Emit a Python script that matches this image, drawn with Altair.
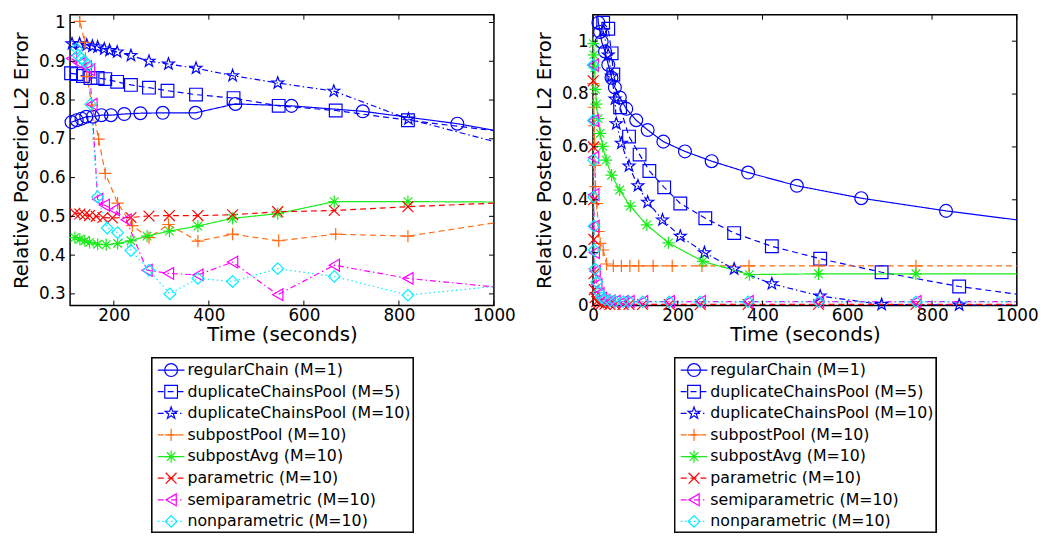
import altair as alt
import pandas as pd

FONT = "DejaVu Sans"

SERIES = ["regularChain (M=1)", "duplicateChainsPool (M=5)", "duplicateChainsPool (M=10)",
          "subpostPool (M=10)", "subpostAvg (M=10)", "parametric (M=10)",
          "semiparametric (M=10)", "nonparametric (M=10)"]
COLORS = ["#0000ff", "#0000ff", "#0000ff", "#ff6a10", "#1aeb1a", "#ff0000", "#ff00ff", "#00eeff"]
DASHES = [[1, 0], [6, 4], [6, 3, 1.5, 3], [6, 4], [1, 0], [6, 4], [6, 3, 1.5, 3], [1.5, 3]]
STAR = ("M0,-1L0.235,-0.324L0.951,-0.309L0.38,0.124L0.588,0.809L0,0.4L-0.588,0.809"
        "L-0.38,0.124L-0.951,-0.309L-0.235,-0.324Z")
PLUS = "M-1,0L1,0M0,-1L0,1"
ASTER = "M-1,0L1,0M0,-1L0,1M-0.7,-0.7L0.7,0.7M-0.7,0.7L0.7,-0.7"
XMARK = "M-0.9,-0.9L0.9,0.9M-0.9,0.9L0.9,-0.9"
SHAPES = ["circle", "square", STAR, PLUS, ASTER, XMARK, "triangle-left", "diamond"]
SIZES = [170, 140, 200, 190, 170, 150, 150, 160]

# ---------------- left panel ----------------
L_XDOM = [108, 1000]
L_YDOM = [0.27, 1.02]
L_XTICKS = [200, 400, 600, 800, 1000]
L_YTICKS = [0.3, 0.4, 0.5, 0.6, 0.7, 0.8, 0.9, 1.0]

L_reg_x = [111, 122, 132, 142, 156, 174, 194, 222, 256, 303, 372, 456, 574, 724, 923]
L_reg_y = [0.743, 0.748, 0.752, 0.757, 0.757, 0.761, 0.761, 0.764, 0.766, 0.767, 0.767, 0.790, 0.785, 0.771, 0.739]
L_dup5_x = [110, 122, 135, 151, 166, 182, 207, 236, 274, 313, 373, 452, 547, 667, 819]
L_dup5_y = [0.869, 0.867, 0.862, 0.857, 0.857, 0.854, 0.847, 0.839, 0.832, 0.824, 0.814, 0.805, 0.785, 0.773, 0.748]
L_dup10_x = [112, 128, 143, 155, 166, 180, 191, 207, 236, 274, 315, 373, 450, 545, 663, 820]
L_dup10_y = [0.945, 0.945, 0.942, 0.939, 0.937, 0.932, 0.928, 0.924, 0.915, 0.900, 0.893, 0.882, 0.863, 0.844, 0.823, 0.751]
L_pool_x = [118, 128.5, 139, 143, 154, 168, 182, 208, 239, 274, 315, 377, 450, 547, 667, 819]
L_pool_y = [1.15, 1.003, 0.949, 0.861, 0.787, 0.699, 0.611, 0.534, 0.476, 0.445, 0.479, 0.436, 0.454, 0.437, 0.454, 0.449]
L_avg_x = [118, 128.5, 139, 149, 166, 184, 208, 236, 270, 317, 377, 450, 545, 664, 819]
L_avg_y = [0.445, 0.441, 0.437, 0.433, 0.428, 0.427, 0.430, 0.437, 0.449, 0.462, 0.475, 0.495, 0.507, 0.538, 0.538]
L_par_x = [118, 128.5, 139, 149, 163, 177, 197, 236, 274, 317, 377, 450, 545, 664, 819]
L_par_y = [0.508, 0.506, 0.504, 0.502, 0.500, 0.497, 0.496, 0.497, 0.501, 0.502, 0.502, 0.504, 0.512, 0.515, 0.525]
L_semi_x = [111, 128.5, 142, 149, 154, 166, 180, 201, 226, 270, 315, 377, 450, 545, 664, 819]
L_semi_y = [0.907, 0.894, 0.886, 0.878, 0.789, 0.544, 0.529, 0.517, 0.491, 0.361, 0.353, 0.349, 0.382, 0.298, 0.374, 0.340]
L_non_x = [122, 125, 132, 139, 146, 151, 166, 186, 208, 236, 274, 318, 377, 450, 545, 664, 819]
L_non_y = [0.932, 0.915, 0.907, 0.899, 0.890, 0.789, 0.550, 0.470, 0.458, 0.412, 0.361, 0.300, 0.340, 0.332, 0.365, 0.345, 0.297]
L_tail_y = [0.722, 0.721, 0.693, 0.483, 0.537, 0.534, 0.318, 0.319]

# ---------------- right panel ----------------
R_XDOM = [0, 1000]
R_YDOM = [0, 1.1]
R_XTICKS = [0, 200, 400, 600, 800, 1000]
R_YTICKS = [0, 0.2, 0.4, 0.6, 0.8, 1.0]

R_reg_x = [5, 12.8, 16.7, 20.5, 28.4, 36, 43.7, 51.6, 63.3, 78.6, 102, 129, 166, 217, 280, 366, 481, 633, 833]
R_reg_y = [1.2, 1.07, 1.035, 0.998, 0.961, 0.911, 0.862, 0.825, 0.787, 0.744, 0.701, 0.664, 0.620, 0.583, 0.546, 0.503, 0.453, 0.406, 0.358]
R_dup5_x = [24, 36, 44, 48, 64, 85, 110, 133, 168, 206, 265, 333, 422, 536, 681, 864]
R_dup5_y = [1.07, 1.047, 0.954, 0.874, 0.75, 0.639, 0.571, 0.509, 0.447, 0.386, 0.330, 0.274, 0.224, 0.177, 0.126, 0.072]
R_dup10_x = [24, 36, 44, 52, 55, 67, 85, 106, 129, 164, 206, 263, 333, 422, 536, 681, 864]
R_dup10_y = [1.04, 0.948, 0.868, 0.781, 0.688, 0.614, 0.528, 0.453, 0.391, 0.324, 0.262, 0.200, 0.138, 0.082, 0.036, 0.004, 0.002]
R_pool_x = [1, 2, 3, 4, 5, 6, 9, 13, 17, 24, 32, 48, 67, 87, 108, 142, 187, 257, 368, 533, 762]
R_pool_y = [0.84, 0.75, 0.68, 0.61, 0.53, 0.45, 0.386, 0.28, 0.235, 0.21, 0.157, 0.15, 0.15, 0.15, 0.15, 0.15, 0.15, 0.15, 0.15, 0.15, 0.15]
R_avg_x = [1, 2, 4, 6, 8, 12, 17, 23, 31, 44, 63, 88, 127, 178, 259, 369, 532, 762]
R_avg_y = [0.991, 0.948, 0.899, 0.818, 0.762, 0.707, 0.651, 0.602, 0.55, 0.493, 0.437, 0.376, 0.305, 0.237, 0.167, 0.117, 0.12, 0.12]
R_low_x = [0.5, 1, 1.5, 2, 2.5, 3, 5, 9, 14, 20, 28, 40, 52, 71, 85, 117, 180, 253, 366, 532, 762]
R_par_y = [0.85, 0.6, 0.4, 0.25, 0.12, 0.06, 0.03, 0.015, 0.01, 0.007, 0.005, 0.004, 0.004, 0.004, 0.004, 0.004, 0.004, 0.004, 0.004, 0.004, 0.004]
R_semi_y = [0.91, 0.70, 0.56, 0.42, 0.30, 0.20, 0.13, 0.08, 0.045, 0.028, 0.02, 0.017, 0.016, 0.015, 0.015, 0.015, 0.015, 0.015, 0.015, 0.015, 0.015]
R_non_y = [0.91, 0.70, 0.55, 0.41, 0.30, 0.21, 0.138, 0.089, 0.05, 0.03, 0.022, 0.018, 0.016, 0.015, 0.015, 0.014, 0.014, 0.014, 0.014, 0.014, 0.014]
R_tail_y = [0.324, 0.043, 0.001, 0.15, 0.12, 0.004, 0.015, 0.014]

W, H = 430, 295
LEG_H = 177
LEG_L, LEG_R = 83, 348   # legend box inside the legend strip (same width as the plot)


def build_frame(xs_list, ys_list, tails, xdom, ydom):
    rows = []
    for s, xs, ys, tail in zip(SERIES, xs_list, ys_list, tails):
        for i, (x, y) in enumerate(zip(xs, ys)):
            inside = (xdom[0] <= x <= xdom[1]) and (ydom[0] <= y <= ydom[1])
            rows.append(dict(series=s, x=x, y=y, i=i, m=int(inside)))
        rows.append(dict(series=s, x=xdom[1], y=tail, i=len(xs), m=0))
    return pd.DataFrame(rows)


color = alt.Color("series:N", scale=alt.Scale(domain=SERIES, range=COLORS), legend=None)
dash = alt.StrokeDash("series:N", scale=alt.Scale(domain=SERIES, range=DASHES), legend=None)
shape = alt.Shape("series:N", scale=alt.Scale(domain=SERIES, range=SHAPES), legend=None)
size = alt.Size("series:N", scale=alt.Scale(domain=SERIES, range=SIZES), legend=None)


def panel(df, xdom, ydom, xticks, yticks):
    xs = alt.Scale(domain=xdom, nice=False, zero=False)
    ys = alt.Scale(domain=ydom, nice=False, zero=False)
    common = dict(ticks=False, domain=False, grid=False, labelFlush=False, labelOverlap=False,
                  labelFont=FONT, titleFont=FONT, labelFontSize=17, titleFontSize=20,
                  labelColor="black", titleColor="black", titleFontWeight="normal")
    xax = alt.Axis(values=xticks, format="d", title="Time (seconds)", labelPadding=2,
                   titlePadding=2, **common)
    yax = alt.Axis(values=yticks, format=".1~f", title="Relative Posterior L2 Error",
                   labelPadding=5, titlePadding=7, **common)
    X = lambda f: alt.X(f, scale=xs, axis=xax)
    Y = lambda f: alt.Y(f, scale=ys, axis=yax)
    lines = alt.Chart(df).mark_line(clip=True, strokeWidth=1.2).encode(
        x=X("x:Q"), y=Y("y:Q"), color=color, strokeDash=dash, order="i:Q")
    pts = alt.Chart(df).mark_point(filled=False, strokeWidth=1.2, opacity=1).encode(
        x=X("x:Q"), y=Y("y:Q"), color=color, shape=shape, size=size).transform_filter("datum.m == 1")
    xt = pd.DataFrame({"x": xticks})
    yt = pd.DataFrame({"y": yticks})
    tb = alt.Chart(xt).mark_rule(color="black", strokeWidth=1).encode(
        x=X("x:Q"), y=alt.value(H), y2=alt.value(H - 5))
    tt = alt.Chart(xt).mark_rule(color="black", strokeWidth=1).encode(
        x=X("x:Q"), y=alt.value(0), y2=alt.value(5))
    tl = alt.Chart(yt).mark_rule(color="black", strokeWidth=1).encode(
        y=Y("y:Q"), x=alt.value(0), x2=alt.value(5))
    tr = alt.Chart(yt).mark_rule(color="black", strokeWidth=1).encode(
        y=Y("y:Q"), x=alt.value(W), x2=alt.value(W - 5))
    return alt.layer(lines, pts, tb, tt, tl, tr).properties(
        width=W, height=H, view=alt.ViewBackground(stroke="black", strokeWidth=1.5))


def legend():
    leg = pd.DataFrame({"series": SERIES, "row": list(range(len(SERIES)))})
    yenc = alt.Y("row:Q", scale=alt.Scale(domain=[-0.57, 7.5], reverse=True, nice=False, zero=False),
                 axis=None)
    base = alt.Chart(leg)
    box = base.mark_rect(fill="white", stroke="black", strokeWidth=1.3).encode(
        x=alt.value(LEG_L), x2=alt.value(LEG_R), y=alt.value(0), y2=alt.value(LEG_H))
    rule = base.mark_rule(strokeWidth=1.2).encode(
        y=yenc, x=alt.value(LEG_L + 6), x2=alt.value(LEG_L + 33), color=color, strokeDash=dash)
    pts = base.mark_point(filled=False, strokeWidth=1.2, opacity=1).encode(
        y=yenc, x=alt.value(LEG_L + 19.5), color=color, shape=shape, size=size)
    txt = base.mark_text(align="left", baseline="middle", font=FONT, fontSize=16, color="black").encode(
        y=yenc, x=alt.value(LEG_L + 36), text="series:N")
    return alt.layer(box, rule, pts, txt).properties(
        width=W, height=LEG_H, view=alt.ViewBackground(strokeOpacity=0))


left_df = build_frame([L_reg_x, L_dup5_x, L_dup10_x, L_pool_x, L_avg_x, L_par_x, L_semi_x, L_non_x],
                      [L_reg_y, L_dup5_y, L_dup10_y, L_pool_y, L_avg_y, L_par_y, L_semi_y, L_non_y],
                      L_tail_y, L_XDOM, L_YDOM)
right_df = build_frame([R_reg_x, R_dup5_x, R_dup10_x, R_pool_x, R_avg_x, R_low_x, R_low_x, R_low_x],
                       [R_reg_y, R_dup5_y, R_dup10_y, R_pool_y, R_avg_y, R_par_y, R_semi_y, R_non_y],
                       R_tail_y, R_XDOM, R_YDOM)

left = alt.vconcat(panel(left_df, L_XDOM, L_YDOM, L_XTICKS, L_YTICKS), legend(), spacing=11)
right = alt.vconcat(panel(right_df, R_XDOM, R_YDOM, R_XTICKS, R_YTICKS), legend(), spacing=11)

chart = alt.hconcat(left, right, spacing=17.5).properties(
    padding={"left": 3, "top": 0, "right": 0, "bottom": 0}, background="white"
)

chart.save("out.html", embed_options={"renderer": "svg", "actions": False})
